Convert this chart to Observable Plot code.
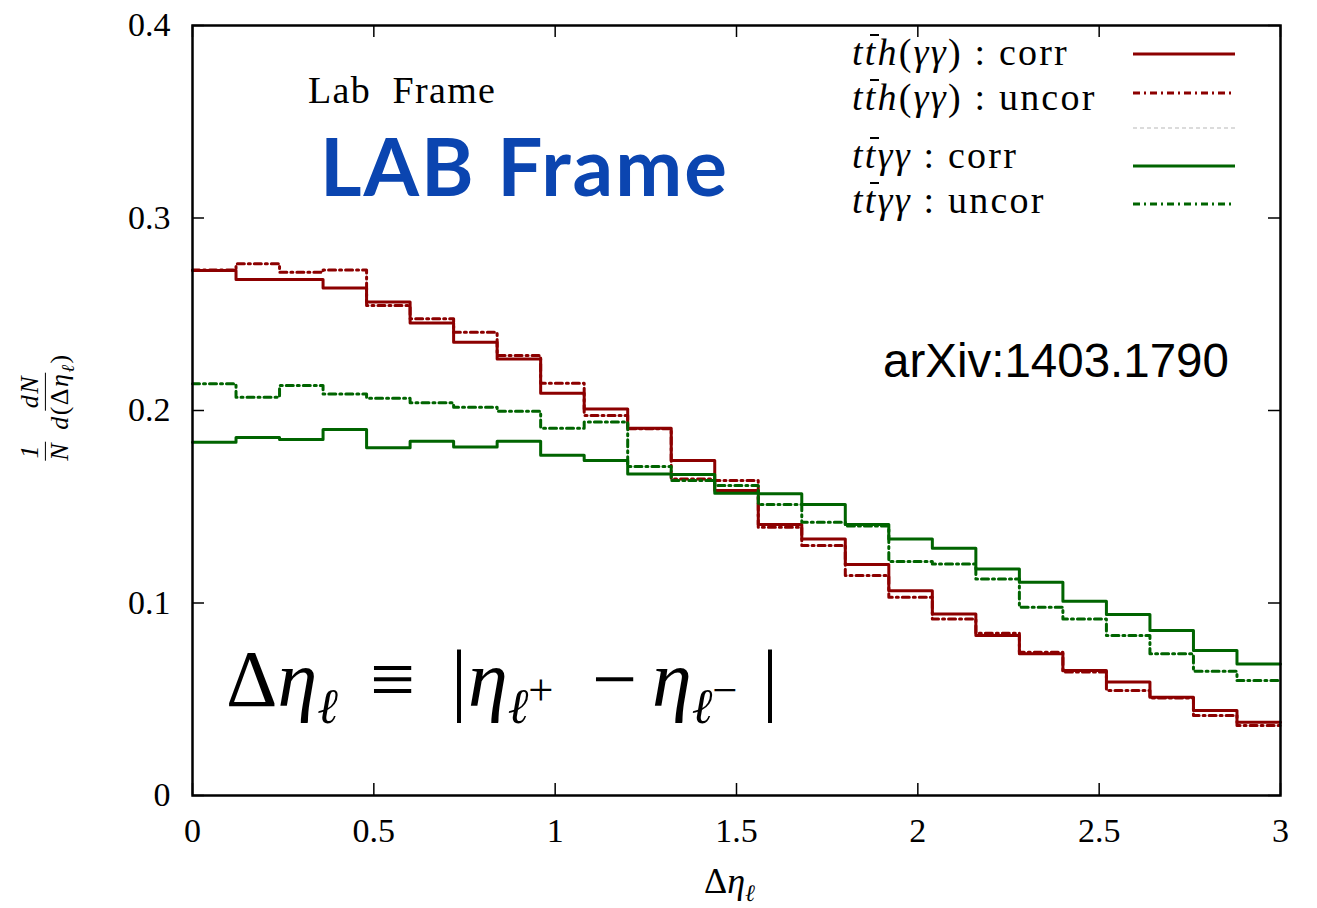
<!DOCTYPE html>
<html>
<head>
<meta charset="utf-8">
<script src="https://cdn.jsdelivr.net/npm/d3@7"></script>
<script src="https://cdn.jsdelivr.net/npm/@observablehq/plot@0.6"></script>
<style>
  body { margin: 0; background: #fff; }
  #wrap { position: relative; width: 1317px; height: 908px; overflow: hidden; font-family: "Liberation Serif", "DejaVu Serif", serif; color: #000; }
  #wrap > svg { position: absolute; left: 0; top: 0; }
  .ov { position: absolute; white-space: nowrap; line-height: 1; }
  .bar { display: inline-block; position: relative; }
  .bar::before { content: ""; position: absolute; left: 0.14em; right: -0.04em; top: 0.02em; border-top: 2px solid #000; }
  sub, sup { line-height: 0; }
  .frac { display: inline-flex; flex-direction: column; align-items: center; vertical-align: middle; margin: 0 4px; }
  .frac span.n, .frac span.d { display: block; padding: 0 2px; line-height: 1.1; }
  .frac span.n { border-bottom: 1.5px solid #000; }
</style>
</head>
<body>
<div id="wrap"></div>
<script>
// ---- data ----
const binEdges = [0, 0.12, 0.24, 0.36, 0.48, 0.60, 0.72, 0.84, 0.96, 1.08, 1.20, 1.32, 1.44,
                  1.56, 1.68, 1.80, 1.92, 2.04, 2.16, 2.28, 2.40, 2.52, 2.64, 2.76, 2.88, 3.00];

const tthCorr  = [0.2727, 0.2680, 0.2680, 0.2637, 0.2563, 0.2454, 0.2355, 0.2268, 0.2090, 0.2008,
                  0.1908, 0.1740, 0.1585, 0.1408, 0.1333, 0.1200, 0.1063, 0.0943, 0.0831, 0.0736,
                  0.0649, 0.0589, 0.0510, 0.0442, 0.0380];
const tthUncor = [0.2730, 0.2762, 0.2718, 0.2730, 0.2545, 0.2476, 0.2407, 0.2286, 0.2142, 0.1974,
                  0.1905, 0.1644, 0.1636, 0.1394, 0.1299, 0.1143, 0.1030, 0.0917, 0.0843, 0.0744,
                  0.0641, 0.0545, 0.0506, 0.0416, 0.0364];
const ttaaCorr = [0.1835, 0.1860, 0.1849, 0.1901, 0.1806, 0.1840, 0.1810, 0.1840, 0.1768, 0.1740,
                  0.1670, 0.1668, 0.1570, 0.1567, 0.1512, 0.1408, 0.1333, 0.1285, 0.1177, 0.1108,
                  0.1009, 0.0940, 0.0857, 0.0753, 0.0683];
const ttaaUncor= [0.2139, 0.2069, 0.2130, 0.2086, 0.2064, 0.2040, 0.2017, 0.1996, 0.1908, 0.1940,
                  0.1709, 0.1636, 0.1610, 0.1512, 0.1420, 0.1400, 0.1216, 0.1203, 0.1125, 0.0978,
                  0.0917, 0.0831, 0.0736, 0.0645, 0.0597];

const xTicks = [0, 0.5, 1, 1.5, 2, 2.5, 3];
const xTickLabels = ["0", "0.5", "1", "1.5", "2", "2.5", "3"];
const yTicks = [0, 0.1, 0.2, 0.3, 0.4];
const yTickLabels = ["0", "0.1", "0.2", "0.3", "0.4"];

const RED = "#8c0000";
const GREEN = "#006400";
const DASH = "7,4,2,4";

// ---- layout ----
const W = 1317, H = 908;
const mL = 192, mR = 37, mT = 25, mB = 113;
const innerW = W - mL - mR, innerH = H - mT - mB;
const tickLen = 12;

function steps(vals) {
  const pts = vals.map((v, i) => ({x: binEdges[i], y: v}));
  pts.push({x: binEdges[binEdges.length - 1], y: vals[vals.length - 1]});
  return pts;
}

const chart = Plot.plot({
  width: W, height: H,
  marginLeft: mL, marginRight: mR, marginTop: mT, marginBottom: mB,
  style: {fontFamily: "'Liberation Serif', serif", fontSize: "34px", color: "#000", background: "#fff"},
  x: {domain: [0, 3]},
  y: {domain: [0, 0.4]},
  marks: [
    Plot.line(steps(tthCorr),   {x: "x", y: "y", curve: "step-after", stroke: RED, strokeWidth: 3}),
    Plot.line(steps(tthUncor),  {x: "x", y: "y", curve: "step-after", stroke: RED, strokeWidth: 3, strokeDasharray: DASH}),
    Plot.line(steps(ttaaCorr),  {x: "x", y: "y", curve: "step-after", stroke: GREEN, strokeWidth: 3}),
    Plot.line(steps(ttaaUncor), {x: "x", y: "y", curve: "step-after", stroke: GREEN, strokeWidth: 3, strokeDasharray: DASH}),
    // inward ticks on all four sides
    Plot.ruleX(xTicks, {insetTop: innerH - tickLen, stroke: "#000", strokeWidth: 1.5}),
    Plot.ruleX(xTicks, {insetBottom: innerH - tickLen, stroke: "#000", strokeWidth: 1.5}),
    Plot.ruleY(yTicks, {insetRight: innerW - tickLen, stroke: "#000", strokeWidth: 1.5}),
    Plot.ruleY(yTicks, {insetLeft: innerW - tickLen, stroke: "#000", strokeWidth: 1.5}),
    Plot.axisX({ticks: xTicks, tickFormat: (d, i) => xTickLabels[i], tickSize: 0, tickPadding: 22, label: null, fontSize: 34}),
    Plot.axisY({ticks: yTicks, tickFormat: (d, i) => yTickLabels[i], tickSize: 0, tickPadding: 22, label: null, fontSize: 34}),
    Plot.frame({stroke: "#000", strokeWidth: 2.5})
  ]
});

const wrap = document.getElementById("wrap");
wrap.appendChild(chart);

function ov(html, css) {
  const d = document.createElement("div");
  d.className = "ov";
  d.innerHTML = html;
  Object.assign(d.style, css);
  wrap.appendChild(d);
  return d;
}

// ---- legend (top right, inside) ----
const TB = '<i>t</i><i class="bar">t</i>';
const legendRows = [
  {html: TB + '<i>h</i>(<i>γγ</i>) : corr',  color: RED,   dash: null, y: 54,  base: 65},
  {html: TB + '<i>h</i>(<i>γγ</i>) : uncor', color: RED,   dash: DASH, y: 93,  base: 110},
  {html: '',                                 color: "#d0d0d0", dash: "4,3", y: 128, w: 1.5},
  {html: TB + '<i>γγ</i> : corr',            color: GREEN, dash: null, y: 166, base: 168},
  {html: TB + '<i>γγ</i> : uncor',           color: GREEN, dash: DASH, y: 204, base: 213}
];
const NS = "http://www.w3.org/2000/svg";
const legSvg = document.createElementNS(NS, "svg");
legSvg.setAttribute("width", W); legSvg.setAttribute("height", H);
legSvg.style.position = "absolute"; legSvg.style.left = "0"; legSvg.style.top = "0"; legSvg.style.pointerEvents = "none";
wrap.appendChild(legSvg);
const LEGFS = 38;
legendRows.forEach(r => {
  const l = document.createElementNS(NS, "line");
  l.setAttribute("x1", 1133); l.setAttribute("x2", 1235);
  l.setAttribute("y1", r.y); l.setAttribute("y2", r.y);
  l.setAttribute("stroke", r.color); l.setAttribute("stroke-width", r.w || 3);
  if (r.dash) l.setAttribute("stroke-dasharray", r.dash);
  legSvg.appendChild(l);
  if (r.html) ov(r.html, {left: "852px", top: (r.base - 0.84 * LEGFS) + "px", fontSize: LEGFS + "px", letterSpacing: "2.2px"});
});

// ---- annotations ----
ov('Lab&nbsp; Frame', {left: "308px", top: (103 - 0.84 * 38) + "px", fontSize: "38px", letterSpacing: "1.3px"});
ov('LAB Frame', {left: "320px", top: "125px", fontSize: "80px", fontFamily: "Lato, 'Open Sans', sans-serif", fontWeight: "bold", color: "#0b45b0", letterSpacing: "2px"});
ov('arXiv:1403.1790', {left: "883px", top: "337px", fontSize: "47.5px", fontFamily: "'Liberation Sans', Arial, sans-serif"});

// formula  Δη_ℓ ≡ |η_ℓ+ − η_ℓ−|
const FFS = 80, FTOP = (706 - 0.84 * FFS) + "px";
const sub = (s) => '<sub style="font-size:0.62em"><i>ℓ</i>' + (s ? '<sup style="font-size:0.9em">' + s + '</sup>' : '') + '</sub>';
ov('Δ<i>η</i>' + sub(''), {left: "226px", top: FTOP, fontSize: FFS + "px"});
ov('≡', {left: "370px", top: FTOP, fontSize: FFS + "px"});
ov('|', {left: "451px", top: FTOP, fontSize: FFS + "px"});
ov('<i>η</i>' + sub('+'), {left: "468px", top: FTOP, fontSize: FFS + "px"});
ov('−', {left: "592px", top: FTOP, fontSize: FFS + "px"});
ov('<i>η</i>' + sub('−'), {left: "652px", top: FTOP, fontSize: FFS + "px"});
ov('|', {left: "762px", top: FTOP, fontSize: FFS + "px"});

// axis labels
ov('Δ<i>η</i><sub style="font-size:0.65em"><i>ℓ</i></sub>', {left: "704px", top: (893 - 0.84 * 36) + "px", fontSize: "36px"});
ov('<span class="frac"><span class="n"><i>1</i></span><span class="d"><i>N</i></span></span><span class="frac"><span class="n"><i>dN</i></span><span class="d"><i>d</i>(Δ<i>η</i><sub style="font-size:0.7em"><i>ℓ</i></sub>)</span></span>',
   {left: "45px", top: "407px", fontSize: "26px", letterSpacing: "1.5px", transform: "translate(-50%,-50%) rotate(-90deg)"});
</script>
</body>
</html>
